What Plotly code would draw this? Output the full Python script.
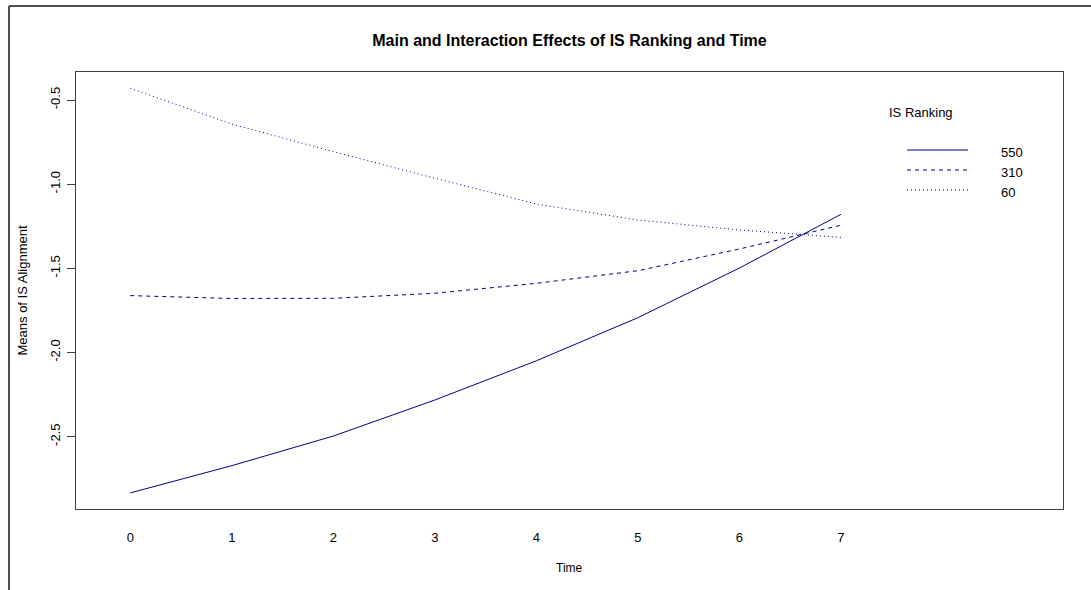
import plotly.graph_objects as go

# Estimated marginal means of IS alignment by time point and IS ranking group
time_points = [0, 1, 2, 3, 4, 5, 6, 7]
ranking_groups = ["550", "310", "60"]
means_550 = [-2.834, -2.672, -2.496, -2.282, -2.049, -1.793, -1.498, -1.179]
means_310 = [-1.662, -1.679, -1.678, -1.648, -1.589, -1.514, -1.385, -1.244]
means_60 = [-0.430, -0.643, -0.807, -0.965, -1.118, -1.213, -1.272, -1.316]
y_ticks = [-2.5, -2.0, -1.5, -1.0, -0.5]
y_tick_text = ["-2.5", "-2.0", "-1.5", "-1.0", "-0.5"]

series = [means_550, means_310, means_60]
dashes = ["solid", "4px,4px", "1px,3px"]
LINE_COLOR = "#00008B"
FONT = "Liberation Sans, Arial, sans-serif"

W, H = 1091, 590
M_L, M_R, M_T, M_B = 76, 28, 72, 81
PW, PH = W - M_L - M_R, H - M_T - M_B


def px_x(px):
    """Horizontal pixel position -> paper coordinate."""
    return (px - M_L) / PW


def px_y(py):
    """Vertical pixel position (from top) -> paper coordinate."""
    return (H - M_B - py) / PH


fig = go.Figure()
for name, vals, dash in zip(ranking_groups, series, dashes):
    fig.add_trace(go.Scatter(
        x=time_points, y=vals, mode="lines", name=name,
        line=dict(color=LINE_COLOR, width=1, dash=dash),
        showlegend=False, hoverinfo="x+y+name",
    ))

shapes = []
annotations = []

# Outer figure frame (left and top edges)
frame = dict(type="line", xref="paper", yref="paper",
             line=dict(color="#505050", width=2))
shapes.append(dict(frame, x0=px_x(9), x1=px_x(9), y0=px_y(6), y1=px_y(H + 5)))
shapes.append(dict(frame, x0=px_x(9), x1=px_x(W + 5), y0=px_y(6), y1=px_y(6)))

# Legend: title, line samples and labels
annotations.append(dict(text="IS Ranking", xref="paper", yref="paper",
                        x=px_x(887), y=px_y(112), xanchor="left", yanchor="middle",
                        showarrow=False, font=dict(family=FONT, size=13, color="black")))
legend_rows = [150, 170, 190]
for name, dash, ry in zip(ranking_groups, dashes, legend_rows):
    shapes.append(dict(type="line", xref="paper", yref="paper",
                       x0=px_x(907), x1=px_x(968), y0=px_y(ry), y1=px_y(ry),
                       line=dict(color=LINE_COLOR, width=1, dash=dash)))
    annotations.append(dict(text=name, xref="paper", yref="paper",
                            x=px_x(999), y=px_y(ry + 2), xanchor="left", yanchor="middle",
                            showarrow=False, font=dict(family=FONT, size=13, color="black")))

# Axis titles
annotations.append(dict(text="Time", xref="paper", yref="paper",
                        x=0.5, y=px_y(568), xanchor="center", yanchor="middle",
                        showarrow=False, font=dict(family=FONT, size=12, color="black")))
annotations.append(dict(text="Means of IS Alignment", xref="paper", yref="paper",
                        x=px_x(22), y=0.5, xanchor="center", yanchor="middle",
                        textangle=-90, showarrow=False,
                        font=dict(family=FONT, size=13, color="black")))

fig.update_layout(
    width=W, height=H,
    margin=dict(l=M_L, r=M_R, t=M_T, b=M_B),
    paper_bgcolor="white", plot_bgcolor="white",
    font=dict(family=FONT, size=13, color="black"),
    title=dict(text="<b>Main and Interaction Effects of IS Ranking and Time</b>",
               x=0.5, xref="paper", y=1 - 40.5 / H, yanchor="middle",
               font=dict(family=FONT, size=16, color="black")),
    shapes=shapes,
    annotations=annotations,
    xaxis=dict(range=[-0.535, 9.187], tickvals=time_points,
               ticktext=[str(t) for t in time_points],
               showgrid=False, zeroline=False, ticks="",
               showline=True, linecolor="#404040", linewidth=1, mirror=True,
               ticklabelstandoff=16, tickfont=dict(family=FONT, size=13)),
    yaxis=dict(range=[-2.9295, -0.3337], tickvals=y_ticks, ticktext=y_tick_text,
               showgrid=False, zeroline=False, ticks="outside", ticklen=8,
               tickcolor="#404040", tickwidth=1, tickangle=-90,
               showline=True, linecolor="#404040", linewidth=1, mirror=True,
               ticklabelstandoff=2, tickfont=dict(family=FONT, size=13)),
)

fig.write_html("out.html")
